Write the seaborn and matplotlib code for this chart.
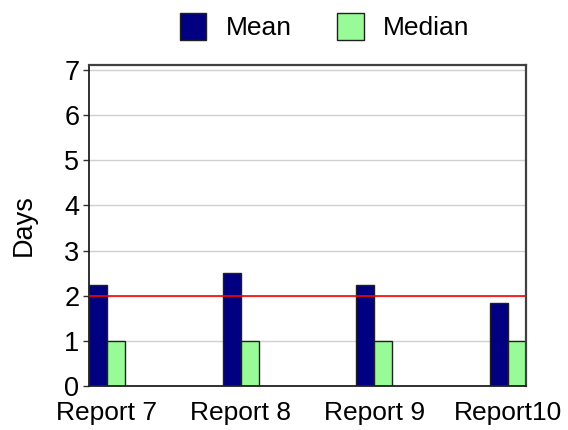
import pandas as pd
import matplotlib.pyplot as plt
import seaborn as sns

# data
reports = ['Report 7', 'Report 8', 'Report 9', 'Report10']
mean_days = [2.24, 2.51, 2.24, 1.84]
median_days = [1.0, 1.0, 1.0, 1.0]
target = 2

df = pd.DataFrame({
    'report': reports * 2,
    'stat': ['Mean'] * 4 + ['Median'] * 4,
    'days': mean_days + median_days,
})

sns.set_style('white')
plt.rcParams['font.family'] = ['Liberation Sans', 'DejaVu Sans']
plt.rcParams['text.color'] = 'black'
plt.rcParams['axes.labelcolor'] = 'black'
plt.rcParams['xtick.color'] = 'black'
plt.rcParams['ytick.color'] = 'black'

fig = plt.figure(figsize=(5.68, 4.30), dpi=100)
ax = fig.add_axes([0.1567, 0.1023, 0.7693, 0.7467])

ax.yaxis.grid(True, color='#d0d0d0', linewidth=1)
ax.set_axisbelow(True)

sns.barplot(data=df, x='report', y='days', hue='stat',
            palette={'Mean': '#000080', 'Median': '#98fb98'}, saturation=1,
            width=0.27, edgecolor='#202020', linewidth=1, ax=ax)

ax.axhline(target, color='red', linewidth=1.2, zorder=3)

ax.set_ylim(0, 7.11)
ax.set_xlim(-0.135, 3.135)
ax.set_yticks(range(8))
ax.set_xlabel('')
ax.set_ylabel('Days', fontsize=19.5, labelpad=20)
ax.tick_params(axis='y', labelsize=19.5, length=4, width=1, left=True, pad=3, color='#303030')
ax.tick_params(axis='x', labelsize=19, length=0, pad=11)

for side in ['left', 'bottom']:
    ax.spines[side].set_color('#202020')
    ax.spines[side].set_linewidth(1.3)
for side in ['top', 'right']:
    ax.spines[side].set_color('#404040')
    ax.spines[side].set_linewidth(1.6)

ax.legend(loc='lower center', bbox_to_anchor=(0.54, 1.02), ncol=2, frameon=False,
          fontsize=19, handlelength=1.0, handleheight=1.2, handletextpad=0.75,
          columnspacing=1.7, borderaxespad=0.3)

fig.savefig('out.png', dpi=100)
